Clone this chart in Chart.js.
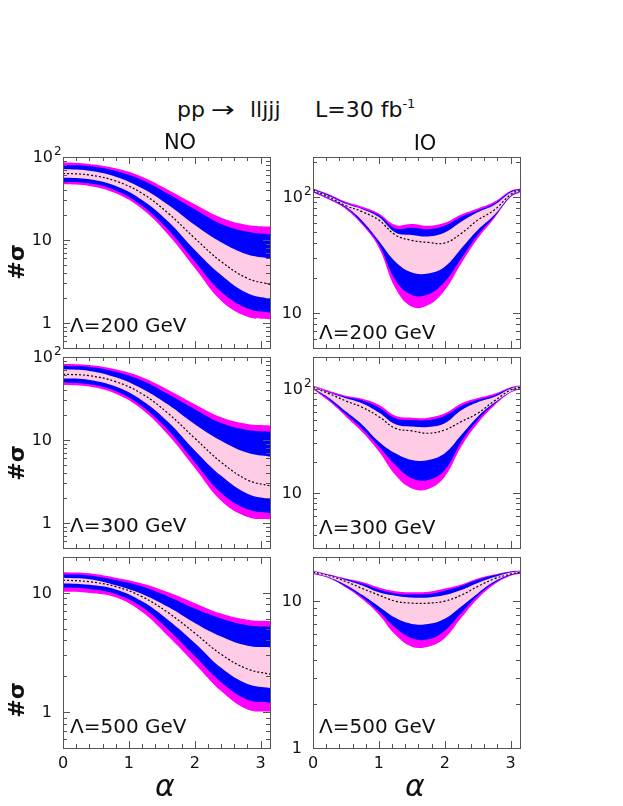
<!DOCTYPE html>
<html>
<head>
<meta charset="utf-8">
<script src="https://cdn.jsdelivr.net/npm/chart.js@4.4.0/dist/chart.umd.min.js"></script>
<style>
  html, body { margin: 0; padding: 0; background: #fff; }
  #page { position: relative; width: 623px; height: 806px; overflow: hidden; font-family: 'DejaVu Sans', sans-serif; color: #111; }
  #page canvas { position: absolute; }
  .txt { position: absolute; white-space: pre; line-height: 1; }
</style>
</head>
<body>
<div id="page"></div>
<script>
/* globals Chart:false */

// alpha grids
const alphaNO = [0, 0.4, 0.8, 1.2, 1.6, 2.0, 2.4, 2.8, 3.1416];
const alphaIO = [0, 0.25, 0.5, 0.75, 1.0, 1.25, 1.5, 1.75, 2.0, 2.25, 2.5, 2.75, 3.0, 3.1416];

// NO, Lambda = 200 GeV
const no200MHi = [86.3, 82.4, 73, 57.9, 40, 26.9, 18.6, 15.2, 14.5];
const no200BHi = [80.1, 77.9, 67.8, 52.9, 35.8, 23.4, 15.6, 12.6, 11.7];
const no200PHi = [71.6, 68.4, 57.9, 41.9, 26.4, 15.2, 9.4, 6.7, 6.0];
const no200Mid = [63.5, 60.7, 51.4, 36.5, 20.9, 10.5, 5.5, 3.45, 2.92];
const no200PLo = [56.4, 53.9, 44.8, 30.4, 16.6, 7.6, 3.8, 2.28, 1.95];
const no200BLo = [50.5, 48.2, 39.6, 25.9, 13.2, 5.5, 2.38, 1.50, 1.34];
const no200MLo = [46.9, 44.8, 36.5, 23.6, 11.5, 4.6, 1.86, 1.19, 1.11];

// NO, Lambda = 300 GeV
const no300MHi = [83, 80, 71, 57, 40, 27, 18.8, 15.6, 15];
const no300BHi = [78, 76, 66.5, 52, 35.5, 23.5, 16, 13.2, 12.6];
const no300PHi = [71, 68, 57, 41.5, 26.5, 15.5, 9.8, 7.0, 6.3];
const no300Mid = [62, 59.5, 50.5, 36, 20.8, 10.5, 5.4, 3.3, 2.8];
const no300PLo = [55, 53, 44, 30, 16.4, 7.5, 3.7, 2.25, 1.93];
const no300BLo = [49, 47, 39, 25.5, 13, 5.4, 2.3, 1.46, 1.31];
const no300MLo = [46, 44, 36, 23.3, 11.4, 4.6, 1.85, 1.18, 1.11];

// NO, Lambda = 500 GeV
const no500MHi = [14.9, 14.6, 13.4, 12.0, 10.1, 8.2, 6.7, 5.95, 5.8];
const no500BHi = [14.3, 14.0, 12.8, 11.3, 9.3, 7.4, 6.1, 5.35, 5.2];
const no500PHi = [13.4, 13.0, 11.6, 9.8, 7.6, 5.6, 4.3, 3.6, 3.5];
const no500Mid = [12.8, 12.4, 11.3, 9.3, 6.8, 4.6, 3.05, 2.3, 2.08];
const no500PLo = [12.0, 11.7, 10.7, 8.5, 5.9, 3.8, 2.35, 1.72, 1.59];
const no500BLo = [11.1, 10.8, 9.8, 7.6, 4.9, 2.95, 1.78, 1.27, 1.2];
const no500MLo = [10.2, 10.0, 9.2, 6.9, 4.3, 2.55, 1.5, 1.05, 1.01];

// IO, Lambda = 200 GeV
const io200MHi = [118, 104.8, 90.6, 82, 71.9, 57.1, 58.2, 56.3, 59.8, 70.5, 79.4, 90.6, 113, 118];
const io200BHi = [116.6, 103.1, 88.5, 79.4, 69.6, 53.4, 54.2, 52.7, 56.3, 67.4, 76.4, 87.7, 111, 116.6];
const io200PHi = [115.8, 101.3, 87.1, 78.3, 66.9, 49.3, 46.9, 45.6, 49.3, 61, 73.5, 84.9, 109, 115.8];
const io200Mid = [114.3, 98.9, 83.7, 74.3, 63, 46.9, 42.2, 40.5, 40, 48.4, 63, 76.8, 104.8, 114.3];
const io200PLo = [112, 96.9, 82, 61.8, 41.6, 27.6, 22.3, 21.9, 25, 35.9, 51.7, 69.6, 102, 112];
const io200BLo = [110.4, 95.7, 80.5, 59, 39, 19.2, 14.3, 14.5, 18.6, 29.5, 46.9, 67.4, 100.7, 110.4];
const io200MLo = [109.1, 94.4, 78.3, 57.1, 36.5, 16.3, 11.3, 11.7, 15.7, 26.7, 43.8, 65.2, 99.5, 109.1];

// IO, Lambda = 300 GeV
const io300MHi = [106.6, 94.8, 85.5, 80, 70, 55, 52.7, 52.7, 58, 72, 81, 89, 103, 106.6];
const io300BHi = [105, 92, 83, 77, 66, 52, 50, 50, 55, 68, 78, 86, 101, 105];
const io300PHi = [105, 91, 80.7, 72, 59, 45.6, 43.3, 43, 46.6, 62, 74, 83, 99.5, 105];
const io300Mid = [102.7, 89, 76.1, 66, 53.9, 41.7, 39.4, 37.4, 40.2, 48.3, 58, 76, 96.8, 102.7];
const io300PLo = [100.5, 80.7, 60.2, 44.9, 31.1, 24.1, 20.8, 20.8, 24.1, 36, 53.9, 73, 93.4, 100.5];
const io300BLo = [99.8, 77.8, 56.7, 41.1, 27.9, 18.6, 13.9, 13.4, 16.7, 31.1, 50.1, 71, 92.5, 99.8];
const io300MLo = [98.4, 75, 53.9, 38.2, 25, 14.9, 11.1, 11.0, 14.4, 27.9, 46.6, 68.5, 91.4, 98.4];

// IO, Lambda = 500 GeV
const io500MHi = [16.2, 15.2, 14.3, 13.5, 12.4, 11.7, 11.5, 11.6, 12.2, 13.0, 14.3, 15.2, 16.0, 16.2];
const io500BHi = [16.0, 15.1, 14.1, 13.2, 12.0, 11.3, 11.1, 11.2, 11.8, 12.7, 14.0, 15.0, 15.9, 16.0];
const io500PHi = [16.0, 15.0, 13.9, 12.8, 11.5, 10.9, 10.6, 10.6, 11.0, 11.9, 13.3, 14.6, 15.7, 16.0];
const io500Mid = [15.8, 14.9, 13.6, 12.2, 11.0, 10.0, 9.7, 9.7, 10.0, 11.0, 12.6, 14.2, 15.3, 15.8];
const io500PLo = [15.6, 14.5, 12.9, 11.0, 9.2, 7.7, 7.0, 7.0, 7.6, 9.2, 11.3, 13.6, 15.2, 15.6];
const io500BLo = [15.5, 14.4, 12.6, 10.6, 8.5, 6.6, 5.6, 5.5, 6.3, 8.3, 10.9, 13.3, 15.1, 15.5];
const io500MLo = [15.3, 14.3, 12.4, 10.3, 8.1, 5.9, 4.9, 4.9, 5.6, 7.7, 10.4, 13.0, 14.9, 15.3];

const xTicks = [0, 1, 2, 3];
const yTicks = [1, 10, 100];

const MAGENTA = '#ff00ff';
const BLUE = '#0000ff';
const PINK = '#ffcce6';
const FRAME = '#555';
const FONT = "'DejaVu Sans', sans-serif";

const page = document.getElementById('page');

const AREA_W = 207, AREA_H = 191;
const PAD_L = 50, PAD_T = 12, PAD_R = 12, PAD_B = 30;

const panels = [
  { left: 63, top: 157, yMin: 0.5, yMax: 100, x: alphaNO, s: [no200MHi, no200BHi, no200PHi, no200Mid, no200PLo, no200BLo, no200MLo] },
  { left: 63, top: 357, yMin: 0.5, yMax: 100, x: alphaNO, s: [no300MHi, no300BHi, no300PHi, no300Mid, no300PLo, no300BLo, no300MLo] },
  { left: 63, top: 557, yMin: 0.5, yMax: 20, x: alphaNO, s: [no500MHi, no500BHi, no500PHi, no500Mid, no500PLo, no500BLo, no500MLo], bottom: true },
  { left: 313, top: 157, yMin: 5, yMax: 220, x: alphaIO, s: [io200MHi, io200BHi, io200PHi, io200Mid, io200PLo, io200BLo, io200MLo] },
  { left: 313, top: 357, yMin: 3, yMax: 200, x: alphaIO, s: [io300MHi, io300BHi, io300PHi, io300Mid, io300PLo, io300BLo, io300MLo] },
  { left: 313, top: 557, yMin: 1, yMax: 20, x: alphaIO, s: [io500MHi, io500BHi, io500PHi, io500Mid, io500PLo, io500BLo, io500MLo], bottom: true },
];

// frame with inward ticks on all four sides, and y labels with a real superscript
const framePlugin = {
  id: 'frame',
  afterDatasetsDraw(chart) {
    const { ctx, chartArea: a, scales: { x, y } } = chart;
    ctx.save();
    ctx.strokeStyle = FRAME;
    ctx.lineWidth = 1;
    ctx.beginPath();
    for (let i = 0; i <= 15; i++) {
      const px = Math.round(x.getPixelForValue(i * 0.2)) + 0.5;
      const len = i % 5 === 0 ? 7 : 4;
      ctx.moveTo(px, a.bottom); ctx.lineTo(px, a.bottom - len);
      ctx.moveTo(px, a.top); ctx.lineTo(px, a.top + len);
    }
    for (let e = -2; e <= 3; e++) {
      for (let k = 1; k < 10; k++) {
        const v = k * Math.pow(10, e);
        if (v < y.min * 0.999 || v > y.max * 1.001) continue;
        const py = Math.round(y.getPixelForValue(v)) + 0.5;
        const len = k === 1 ? 7 : 4;
        ctx.moveTo(a.left, py); ctx.lineTo(a.left + len, py);
        ctx.moveTo(a.right, py); ctx.lineTo(a.right - len, py);
      }
    }
    ctx.stroke();
    ctx.strokeRect(Math.round(a.left) + 0.5, Math.round(a.top) + 0.5, Math.round(a.width), Math.round(a.height));

    ctx.fillStyle = '#111';
    ctx.textBaseline = 'middle';
    yTicks.forEach(v => {
      if (v < y.min * 0.999 || v > y.max * 1.001) return;
      const py = y.getPixelForValue(v);
      ctx.font = '16px ' + FONT;
      ctx.textAlign = 'right';
      if (v === 100) {
        ctx.fillText('10', a.left - 10, py + 1);
        ctx.font = '12px ' + FONT;
        ctx.textAlign = 'left';
        ctx.fillText('2', a.left - 9, py - 5);
      } else {
        ctx.fillText(String(v), a.left - 11, py + 1);
      }
    });
    ctx.restore();
  }
};

function buildDatasets(xs, s) {
  const pts = arr => arr.map((v, i) => ({ x: xs[i], y: v }));
  const edge = (arr, fill, color) => ({
    data: pts(arr),
    borderColor: 'rgba(0,0,0,0)',
    borderWidth: 1,
    pointRadius: 0,
    fill: fill,
    backgroundColor: color || 'rgba(0,0,0,0)',
    tension: 0.4
  });
  // first dataset is drawn last (on top)
  return [
    { data: pts(s[3]), borderColor: '#000', borderWidth: 1.2, borderDash: [2, 2], pointRadius: 0, fill: false, tension: 0.4 },
    edge(s[2], 2, PINK),
    edge(s[4], false),
    edge(s[1], 4, BLUE),
    edge(s[5], false),
    edge(s[0], 6, MAGENTA),
    edge(s[6], false),
  ];
}

panels.forEach(p => {
  const canvas = document.createElement('canvas');
  canvas.width = PAD_L + AREA_W + PAD_R;
  canvas.height = PAD_T + AREA_H + PAD_B;
  canvas.style.left = (p.left - PAD_L) + 'px';
  canvas.style.top = (p.top - PAD_T) + 'px';
  page.appendChild(canvas);

  new Chart(canvas, {
    type: 'line',
    data: { datasets: buildDatasets(p.x, p.s) },
    plugins: [framePlugin],
    options: {
      responsive: false,
      animation: false,
      devicePixelRatio: 1,
      events: [],
      layout: { padding: { top: PAD_T, right: PAD_R, left: 0, bottom: 0 } },
      plugins: { legend: { display: false }, tooltip: { enabled: false } },
      scales: {
        x: {
          type: 'linear',
          min: 0,
          max: Math.PI,
          grid: { display: false, drawTicks: false },
          border: { display: false },
          afterBuildTicks: axis => { axis.ticks = xTicks.map(v => ({ value: v })) },
          afterFit: axis => { axis.height = PAD_B },
          ticks: {
            display: !!p.bottom,
            autoSkip: false,
            maxRotation: 0,
            padding: 6,
            color: '#111',
            font: { family: FONT, size: 16 },
            callback: v => String(v)
          }
        },
        y: {
          type: 'logarithmic',
          min: p.yMin,
          max: p.yMax,
          grid: { display: false, drawTicks: false },
          border: { display: false },
          afterBuildTicks: axis => {
            axis.ticks = yTicks.filter(v => v >= p.yMin * 0.999 && v <= p.yMax * 1.001).map(v => ({ value: v }))
          },
          afterFit: axis => { axis.width = PAD_L },
          ticks: { display: false }
        }
      }
    }
  })
});

// text
function put(html, x, baseline, size, style) {
  const el = document.createElement('div');
  el.className = 'txt';
  el.innerHTML = html;
  el.style.left = x + 'px';
  el.style.top = (baseline - 0.846 * size) + 'px';
  el.style.fontSize = size + 'px';
  Object.assign(el.style, style || {});
  page.appendChild(el);
  return el;
}

put('pp', 177, 118, 22);
put('→', 211, 118, 22, { transform: 'scaleX(1.3)', transformOrigin: 'left center' });
put('lljjj', 250, 118, 22);
put('L=30 fb<span style="font-size:13px;position:relative;top:-9px">-1</span>', 315, 118, 22);

put('NO', 180, 150, 21, { transform: 'translateX(-50%)' });
put('IO', 425, 151, 21, { transform: 'translateX(-50%)' });

const lambdaLabels = [
  ['Λ=200 GeV', 70, 332], ['Λ=300 GeV', 70, 532], ['Λ=500 GeV', 70, 733],
  ['Λ=200 GeV', 319, 339], ['Λ=300 GeV', 319, 534], ['Λ=500 GeV', 319, 733],
];
lambdaLabels.forEach(([t, x, b]) => put(t, x, b, 20));

[262, 463, 700].forEach(cy => {
  const el = put('#σ', 17, cy, 22, { fontWeight: 'bold', transform: 'translate(-50%, -50%) rotate(-90deg)' });
  el.style.top = cy + 'px';
});

[165, 415].forEach(cx => {
  put('α', cx, 796, 30, { fontStyle: 'italic', transform: 'translateX(-50%)' });
});
</script>
</body>
</html>
